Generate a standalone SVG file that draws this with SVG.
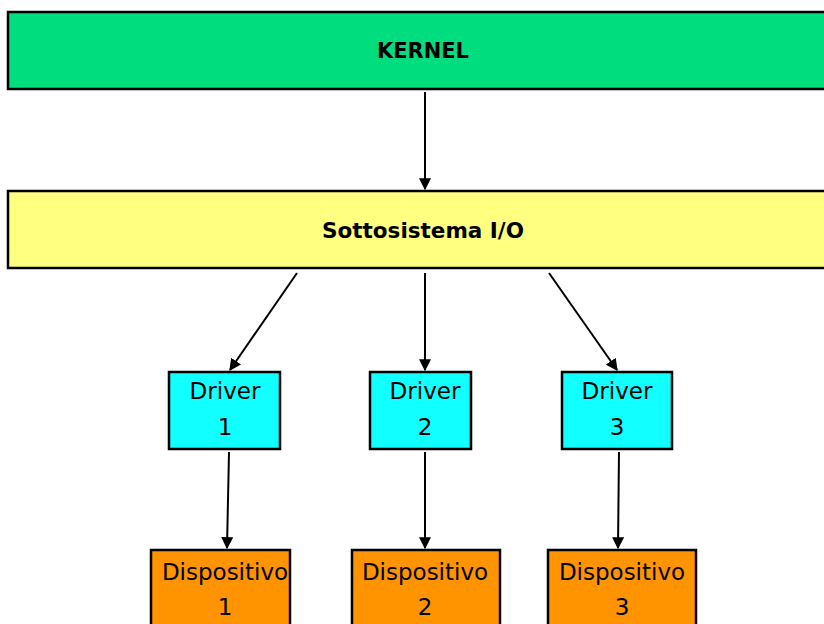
<svg xmlns="http://www.w3.org/2000/svg" width="824" height="624" viewBox="0 0 824 624">
<style>
rect{stroke:#000;stroke-width:2.5}
text{font-family:"DejaVu Sans","Liberation Sans",sans-serif;text-anchor:middle;fill:#000}
.b{font-weight:bold;font-size:22px}
.n{font-size:23px}
.c line{stroke:#000;stroke-width:2;marker-end:url(#a)}
</style>
<defs>
<marker id="a" viewBox="0 0 10 10" refX="9" refY="5" markerWidth="6" markerHeight="6" orient="auto" markerUnits="strokeWidth">
<path d="M0,0 L10,5 L0,10 z" fill="#000"/>
</marker>
</defs>
<g id="kernel"><rect x="8" y="12" width="830" height="77" fill="#00DD7E"/><text class="b" x="423" y="58" textLength="92" lengthAdjust="spacingAndGlyphs">KERNEL</text></g>
<g id="sottosistema"><rect x="8" y="191" width="830" height="77" fill="#FFFF80"/><text class="b" x="423" y="238" textLength="202" lengthAdjust="spacingAndGlyphs">Sottosistema I/O</text></g>
<g id="driver1"><rect x="169" y="372" width="111" height="77" fill="#11FFFF"/><text class="n" x="225" y="399">Driver</text><text class="n" x="225" y="435">1</text></g>
<g id="driver2"><rect x="370" y="372" width="101" height="77" fill="#11FFFF"/><text class="n" x="425" y="399">Driver</text><text class="n" x="425" y="435">2</text></g>
<g id="driver3"><rect x="562" y="372" width="110" height="77" fill="#11FFFF"/><text class="n" x="617" y="399">Driver</text><text class="n" x="617" y="435">3</text></g>
<g id="dispositivo1"><rect x="151" y="550" width="139" height="90" fill="#FF9400"/><text class="n" x="225" y="580">Dispositivo</text><text class="n" x="225" y="615">1</text></g>
<g id="dispositivo2"><rect x="352" y="550" width="148" height="90" fill="#FF9400"/><text class="n" x="425" y="580">Dispositivo</text><text class="n" x="425" y="615">2</text></g>
<g id="dispositivo3"><rect x="548" y="550" width="148" height="90" fill="#FF9400"/><text class="n" x="622" y="580">Dispositivo</text><text class="n" x="622" y="615">3</text></g>
<g class="c" id="connectors">
<line x1="425" y1="92" x2="425" y2="189"/>
<line x1="297" y1="273" x2="230" y2="370"/>
<line x1="425" y1="273" x2="425" y2="370"/>
<line x1="549" y1="273" x2="617" y2="370"/>
<line x1="229" y1="452" x2="227" y2="548"/>
<line x1="425" y1="452" x2="425" y2="548"/>
<line x1="619" y1="452" x2="618" y2="548"/>
</g>
</svg>
